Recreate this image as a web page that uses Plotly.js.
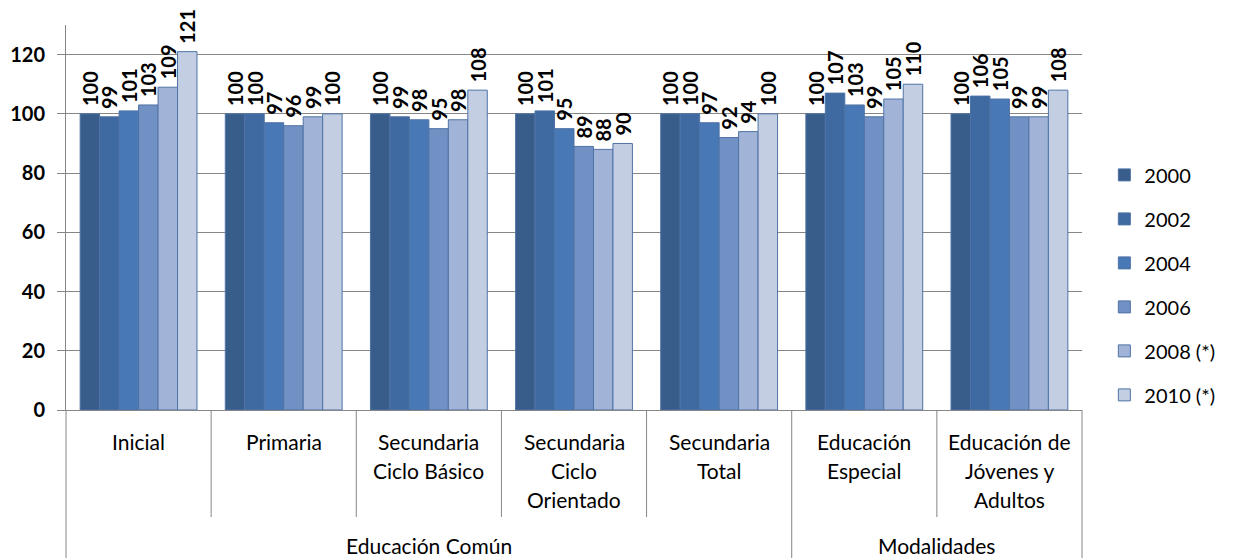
<!DOCTYPE html>
<html>
<head>
<meta charset="utf-8">
<script src="https://cdn.plot.ly/plotly-3.0.1.min.js"></script>
<style>html,body{margin:0;padding:0;background:#fff;}#chart{width:1233px;height:558px;}</style>
</head>
<body>
<div id="chart"></div>
<script>
// ---- data ----
const categories = ['Inicial', 'Primaria', 'Secundaria Ciclo Básico', 'Secundaria Ciclo Orientado', 'Secundaria Total', 'Educación Especial', 'Educación de Jóvenes y Adultos'];
const categoryLines = [['Inicial'], ['Primaria'], ['Secundaria', 'Ciclo Básico'], ['Secundaria', 'Ciclo', 'Orientado'], ['Secundaria', 'Total'], ['Educación', 'Especial'], ['Educación de', 'Jóvenes y', 'Adultos']];
const groupNames = ['Educación Común', 'Modalidades'];
const groupMembers = [[0, 1, 2, 3, 4], [5, 6]];
const years = ['2000', '2002', '2004', '2006', '2008 (*)', '2010 (*)'];
const v2000 = [100, 100, 100, 100, 100, 100, 100];
const v2002 = [99, 100, 99, 101, 100, 107, 106];
const v2004 = [101, 97, 98, 95, 97, 103, 105];
const v2006 = [103, 96, 95, 89, 92, 99, 99];
const v2008 = [109, 99, 98, 88, 94, 105, 99];
const v2010 = [121, 100, 108, 90, 100, 110, 108];
const yTicks = [0, 20, 40, 60, 80, 100, 120];

// ---- style ----
const series = [v2000, v2002, v2004, v2006, v2008, v2010];
const colors = ['#395d8a', '#3f69a1', '#4878b6', '#7191c4', '#a1b4d7', '#c3cee3'];
const outline = '#4f73a6';
const FONT = 'Lato, "Open Sans", sans-serif';
const M = {l: 66, r: 151, t: 25, b: 148};
const plotH = 558 - M.t - M.b;
const gridCol = '#868686';

const traces = series.map((vals, i) => ({
  type: 'bar',
  name: years[i],
  x: categories,
  y: vals,
  text: vals.map(v => '\u00a0' + String(v)),
  textposition: 'outside',
  textangle: -90,
  constraintext: 'none',
  cliponaxis: false,
  textfont: {family: FONT, size: 20, color: '#000', weight: 'bold'},
  marker: {color: colors[i], line: {color: outline, width: 1}},
  legendgroup: 'g' + i,
  hoverinfo: 'x+y+name'
}));

const shapes = [];
const annotations = [];
// dividers between categories
for (let i = 0; i <= categories.length; i++) {
  const isGroupEdge = i === 0 || i === categories.length || groupMembers.some(g => g[0] === i);
  const depth = isGroupEdge ? 148 : 107;
  const edge = i === 0 || i === categories.length;
  shapes.push({
    type: 'line', layer: 'above',
    xref: edge ? 'paper' : 'x', x0: edge ? (i === 0 ? 0 : 1) : i - 0.5, x1: edge ? (i === 0 ? 0 : 1) : i - 0.5,
    yref: 'paper', y0: 0, y1: -depth / plotH,
    line: {color: gridCol, width: 1}
  });
}
// category labels
categoryLines.forEach((lines, i) => {
  lines.forEach((ln, k) => {
    annotations.push({
      xref: 'x', x: i, yref: 'paper', y: 0, yanchor: 'middle', xanchor: 'center',
      yshift: -31 - 29 * k, text: ln, showarrow: false,
      font: {family: FONT, size: 21, color: '#000'}
    });
  });
});
// group labels
groupNames.forEach((g, j) => {
  const mem = groupMembers[j];
  const c = (mem[0] + mem[mem.length - 1]) / 2;
  annotations.push({
    xref: 'x', x: c, yref: 'paper', y: 0, yanchor: 'middle', xanchor: 'center',
    yshift: -135, text: g, showarrow: false,
    font: {family: FONT, size: 21, color: '#000'}
  });
});

const layout = {
  width: 1233, height: 558,
  margin: M,
  paper_bgcolor: '#fff', plot_bgcolor: '#fff',
  font: {family: FONT, color: '#000'},
  barmode: 'group',
  bargap: 0.195, bargroupgap: 0,
  showlegend: true,
  legend: {
    x: 1.022, xanchor: 'left', y: 0.325, yanchor: 'middle',
    font: {family: FONT, size: 20, color: '#000'},
    tracegroupgap: 15, itemwidth: 30,
    bgcolor: 'rgba(0,0,0,0)'
  },
  xaxis: {
    type: 'category', showticklabels: false, ticks: '',
    showline: true, linecolor: gridCol, linewidth: 1,
    showgrid: false, zeroline: false, fixedrange: true
  },
  yaxis: {
    range: [0, 130], tickvals: yTicks, ticktext: yTicks.map(String),
    ticks: 'outside', ticklen: 8, tickcolor: gridCol, tickwidth: 1,
    ticklabelstandoff: 8,
    showline: true, linecolor: gridCol, linewidth: 1,
    showgrid: true, gridcolor: gridCol, gridwidth: 1,
    zeroline: false,
    tickfont: {family: FONT, size: 20, color: '#000', weight: 'bold'},
    fixedrange: true
  },
  shapes: shapes,
  annotations: annotations
};

Plotly.newPlot('chart', traces, layout, {displayModeBar: false, staticPlot: true});
</script>
</body>
</html>
